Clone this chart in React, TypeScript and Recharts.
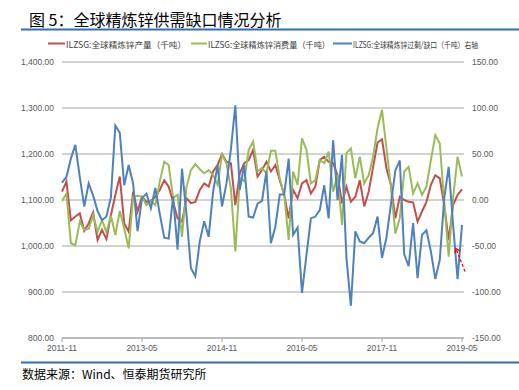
import React from 'react';
import { LineChart, Line, XAxis, YAxis, CartesianGrid } from 'recharts';

// Monthly categories 2011-11 .. 2019-05
const months: string[] = (() => {
  const out: string[] = [];
  let y = 2011;
  let m = 11;
  while (y < 2019 || (y === 2019 && m <= 5)) {
    out.push(`${y}-${String(m).padStart(2, '0')}`);
    m += 1;
    if (m > 12) { m = 1; y += 1; }
  }
  return out;
})();

const production = [
  1118, 1140, 1056, 1064, 1071, 1033, 1049, 1073, 1013, 1035,
  1015, 1067, 1111, 1151, 1049, 1031, 1118, 1075, 1107, 1096,
  1098, 1107, 1122, 1143, 1129, 1096, 1060, 1053, 1104, 1093,
  1096, 1122, 1136, 1129, 1162, 1176, 1200, 1183, 1180, 1089,
  1158, 1180, 1187, 1209, 1151, 1165, 1183, 1162, 1176, 1143,
  1111, 1060, 1122, 1104, 1136, 1143, 1114, 1129, 1187, 1194,
  1183, 1180, 1154, 1093, 1129, 1096, 1107, 1143, 1086, 1118,
  1172, 1225, 1232, 1169, 1133, 1060, 1107, 1100, 1096, 1095,
  1053, 1075, 1096, 1133, 1154, 1147, 1089, 1013, 1089, 1111,
  1123,
];

const consumption = [
  1098, 1114, 1006, 1002, 1053, 1035, 1037, 1067, 1031, 1056,
  1030, 1066, 1024, 1076, 1038, 995, 1107, 1109, 1107, 1089,
  1098, 1089, 1140, 1183, 1176, 1105, 1111, 1020, 1128, 1165,
  1178, 1167, 1158, 1165, 1154, 1133, 1199, 1180, 1125, 988,
  1147, 1141, 1209, 1227, 1162, 1170, 1158, 1207, 1207, 1147,
  1111, 1013, 1162, 1133, 1234, 1209, 1136, 1143, 1187, 1180,
  1205, 1118, 1154, 1046, 1202, 1212, 1147, 1194, 1136, 1154,
  1194, 1256, 1296, 1212, 1129, 1027, 1060, 1162, 1172, 1114,
  1136, 1111, 1129, 1187, 1241, 1223, 1096, 977, 1104, 1194,
  1151,
];

const balance = [
  19, 25, 45, 60, 25, -7, 18, 5, -12, -22,
  -18, 3, 81, 73, 16, 38, 18, -34, 2, 7,
  -9, 13, -15, -41, -42, 4, -54, 34, -15, -74,
  -83, -45, -23, -40, 9, 38, -7, 18, 55, 103,
  11, 38, -18, -19, -4, -1, 31, -47, -29, 6,
  6, 45, -38, -30, -101, -60, -20, -18, -11, 16,
  -20, 65, 0, 49, -63, -115, -34, -45, -47, -41,
  -36, -18, -63, -41, -5, 32, 43, -59, -72, -25,
  -85, -38, -33, -56, -86, -65, 2, 36, -27, -86,
  -27,
];

const leftTicks = [800, 900, 1000, 1100, 1200, 1300, 1400];
const rightTicks = [-150, -100, -50, 0, 50, 100, 150];
const xTicks = ['2011-11', '2013-05', '2014-11', '2016-05', '2017-11', '2019-05'];

const seriesNames = [
  'ILZSG:全球精炼锌产量（千吨）',
  'ILZSG:全球精炼锌消费量（千吨）',
  'ILZSG:全球精炼锌过剩/缺口（千吨）右轴',
];

const RED = '#C0504D';
const GREEN = '#9BBB59';
const BLUE = '#4F81BD';
const GRID = '#A6A6A6';
const RULE = '#2F6FB5';

const data = months.map((d, i) => ({
  date: d,
  production: production[i],
  consumption: consumption[i],
  balance: balance[i],
}));

const fmt = (v: number) =>
  v.toLocaleString('en-US', { minimumFractionDigits: 2, maximumFractionDigits: 2 });

const tickStyle = { fontSize: 8.5, fill: '#595959', fontFamily: 'Liberation Sans, Arial, sans-serif' };

export default function App() {
  const legendItems = [
    { color: RED, x1: 48, x2: 65, tx: 66, tl: 120 },
    { color: GREEN, x1: 191, x2: 207, tx: 208, tl: 122 },
    { color: BLUE, x1: 333, x2: 352, tx: 353, tl: 125 },
  ];
  return (
    <div style={{ position: 'absolute', left: 0, top: 0, width: 519, height: 390, background: '#fff', overflow: 'hidden' }}>
      <div
        style={{
          position: 'absolute', left: 29, top: 10, fontSize: 16, lineHeight: '18px',
          fontFamily: '"Noto Sans CJK SC", sans-serif', color: '#000', whiteSpace: 'nowrap',
        }}
      >
        图 5：全球精炼锌供需缺口情况分析
      </div>
      <div
        style={{
          position: 'absolute', left: 22, top: 367, fontSize: 12, lineHeight: '14px',
          fontFamily: '"Noto Sans CJK SC", serif', color: '#000', whiteSpace: 'nowrap',
        }}
      >
        数据来源：Wind、恒泰期货研究所
      </div>
      <div style={{ position: 'absolute', left: 0, top: 0 }}>
        <LineChart width={519} height={390} data={data} margin={{ top: 62, right: 5, bottom: 32, left: 12 }}>
          <CartesianGrid yAxisId="left" vertical={false} stroke={GRID} strokeWidth={1} />
          <XAxis
            dataKey="date"
            ticks={xTicks}
            interval={0}
            padding={{ left: 0, right: 2 }}
            height={20}
            axisLine={{ stroke: GRID }}
            tickLine={{ stroke: GRID }}
            tickSize={4}
            tickMargin={3}
            tick={tickStyle}
          />
          <YAxis
            yAxisId="left"
            domain={[800, 1400]}
            ticks={leftTicks}
            width={50}
            axisLine={false}
            tickLine={false}
            tickFormatter={fmt}
            tick={tickStyle}
          />
          <YAxis
            yAxisId="right"
            orientation="right"
            domain={[-150, 150]}
            ticks={rightTicks}
            width={50}
            axisLine={false}
            tickLine={false}
            tickFormatter={fmt}
            tick={{ ...tickStyle, textAnchor: 'start' }}
          />
          <Line yAxisId="left" type="linear" dataKey="production" stroke={RED} strokeWidth={2} dot={false} isAnimationActive={false} />
          <Line yAxisId="left" type="linear" dataKey="consumption" stroke={GREEN} strokeWidth={2} dot={false} isAnimationActive={false} />
          <Line yAxisId="right" type="linear" dataKey="balance" stroke={BLUE} strokeWidth={2} dot={false} isAnimationActive={false} />
        </LineChart>
      </div>
      <svg width={519} height={390} style={{ position: 'absolute', left: 0, top: 0, pointerEvents: 'none' }}>
        <line x1={21} x2={519} y1={29.5} y2={29.5} stroke={RULE} strokeWidth={2} />
        <line x1={21} x2={519} y1={362.5} y2={362.5} stroke={RULE} strokeWidth={2} />
        {legendItems.map((it, i) => (
          <g key={i}>
            <line x1={it.x1} x2={it.x2} y1={43.5} y2={43.5} stroke={it.color} strokeWidth={2} />
            <text
              x={it.tx}
              y={43.5}
              dominantBaseline="central"
              fontSize={8.5}
              fill="#404040"
              fontFamily='"Noto Sans CJK SC", sans-serif'
              textLength={it.tl}
              lengthAdjust="spacingAndGlyphs"
            >
              {seriesNames[i]}
            </text>
          </g>
        ))}
        <line x1={465} y1={271.5} x2={456.3} y2={249.5} stroke="#FF0000" strokeWidth={1.3} strokeDasharray="3 2" />
        <polyline points="454.8,253.4 456,248.5 460.2,251.3" fill="none" stroke="#FF0000" strokeWidth={1.3} />
      </svg>
    </div>
  );
}
